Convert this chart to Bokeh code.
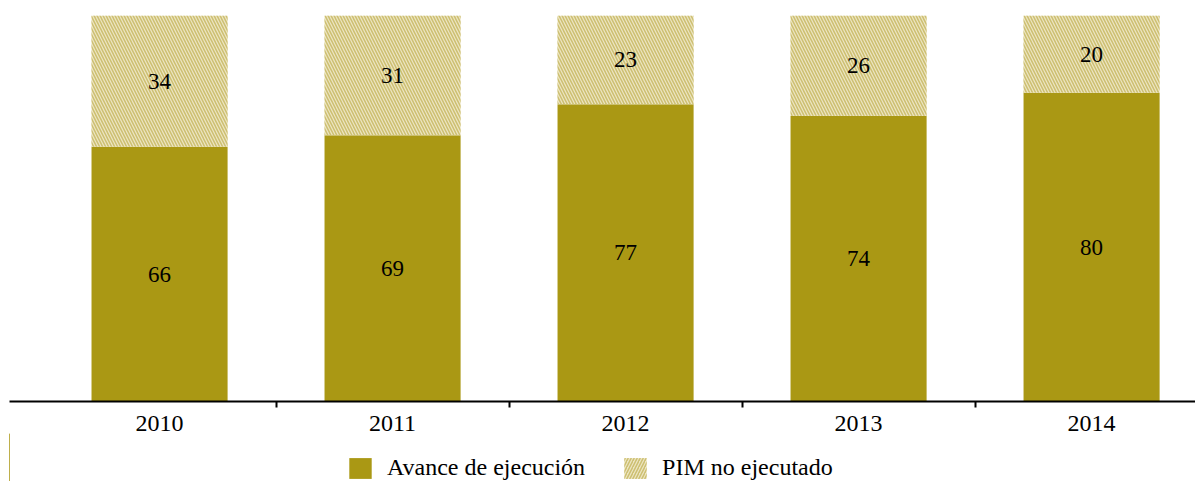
from bokeh.plotting import figure
from bokeh.layouts import column
from bokeh.models import ColumnDataSource, FixedTicker, Legend, LegendItem, Range1d
from bokeh.embed import file_html
from bokeh.resources import INLINE
from bokeh.core.properties import value

years = ["2010", "2011", "2012", "2013", "2014"]
avance = [66, 69, 77, 74, 80]
no_ejecutado = [34, 31, 23, 26, 20]
series_names = ["Avance de ejecución", "PIM no ejecutado"]

SOLID = "#aa9814"
HATCH_BG = "#ece5c2"
HATCH_LINE = "#cdbf70"
FONT = "Liberation Serif"

xs = list(range(len(years)))
top2 = [a + b for a, b in zip(avance, no_ejecutado)]
src = ColumnDataSource(dict(
    x=xs,
    avance=avance,
    no_ejec=no_ejecutado,
    top2=top2,
    y1=[a / 2 for a in avance],
    y2=[a + b / 2 for a, b in zip(avance, no_ejecutado)],
    t1=[str(v) for v in avance],
    t2=[str(v) for v in no_ejecutado],
))

p = figure(width=1195, height=433, x_range=Range1d(-0.644, 4.446), y_range=Range1d(0, 100),
           output_backend="svg", toolbar_location=None, y_axis_location=None,
           min_border_left=9, min_border_right=0, min_border_top=15, min_border_bottom=0)
p.outline_line_color = None
p.xgrid.visible = False
p.ygrid.visible = False

r1 = p.vbar(x="x", bottom=0, top="avance", width=0.584, source=src,
            fill_color=SOLID, line_color=None)
r2 = p.vbar(x="x", bottom="avance", top="top2", width=0.584, source=src,
            fill_color=HATCH_BG, line_color=None,
            hatch_pattern="\\", hatch_color=HATCH_LINE, hatch_scale=6, hatch_weight=1.5)

p.text(x="x", y="y1", text="t1", source=src, text_font=value(FONT), text_font_size="23px",
       text_align="center", text_baseline="middle", text_color="black")
p.text(x="x", y="y2", text="t2", source=src, text_font=value(FONT), text_font_size="23px",
       text_align="center", text_baseline="middle", text_color="black")

ax = p.xaxis[0]
ax.ticker = FixedTicker(ticks=xs, minor_ticks=[i + 0.5 for i in xs[:-1]])
ax.major_label_overrides = {i: y for i, y in zip(xs, years)}
ax.major_tick_out = 0
ax.major_tick_in = 0
ax.minor_tick_out = 6
ax.minor_tick_in = 0
ax.minor_tick_line_color = "black"
ax.minor_tick_line_width = 2
ax.axis_line_color = "black"
ax.axis_line_width = 2
ax.major_label_text_font = FONT
ax.major_label_text_font_size = "24px"
ax.major_label_text_color = "black"
ax.major_label_standoff = 8

# legend strip below the chart (its keys reuse the data, placed out of view)
lg = figure(width=1195, height=48, x_range=Range1d(100, 101), y_range=Range1d(0, 1),
            output_backend="svg", toolbar_location=None,
            x_axis_location=None, y_axis_location=None, min_border=0)
lg.outline_line_color = None
lg.xgrid.visible = False
lg.ygrid.visible = False
k1 = lg.vbar(x="x", bottom=0, top="avance", width=0.584, source=src,
             fill_color=SOLID, line_color=None)
k2 = lg.vbar(x="x", bottom="avance", top="top2", width=0.584, source=src,
             fill_color=HATCH_BG, line_color=None,
             hatch_pattern="/", hatch_color=HATCH_LINE, hatch_scale=6, hatch_weight=1.5)

legend = Legend(items=[LegendItem(label=series_names[0], renderers=[k1]),
                       LegendItem(label=series_names[1], renderers=[k2])],
                orientation="horizontal", location=(337, 0),
                label_text_font=FONT, label_text_font_size="24px", label_text_color="black",
                glyph_width=28, glyph_height=26, label_height=26, label_standoff=13, spacing=36,
                padding=0, margin=0, border_line_color=None, background_fill_alpha=0)
lg.add_layout(legend, "center")

layout = column(p, lg, spacing=0)
open("out.html", "w").write(file_html(layout, INLINE))
